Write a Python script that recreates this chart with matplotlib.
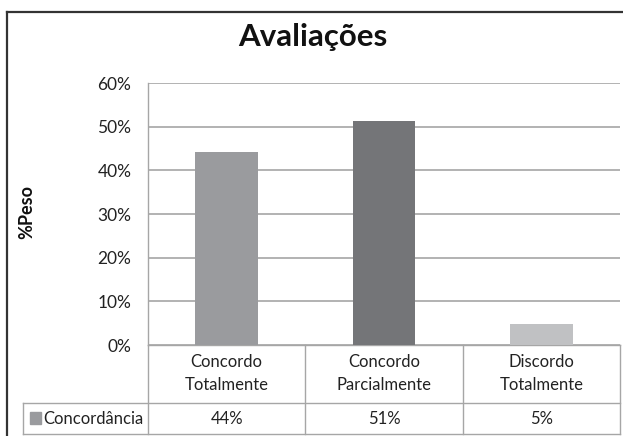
import matplotlib
matplotlib.use("Agg")
import matplotlib.pyplot as plt
from matplotlib.patches import Rectangle
from matplotlib.lines import Line2D

categories = ["Concordo\nTotalmente", "Concordo\nParcialmente", "Discordo\nTotalmente"]
values = [0.441, 0.512, 0.047]
bar_colors = ["#9a9b9e", "#747578", "#c0c1c3"]
series_name = "Concordância"
title = "Avaliações"
ylabel = "%Peso"
yticks = [0, 0.1, 0.2, 0.3, 0.4, 0.5, 0.6]

W, H = 623, 436
plt.rcParams["font.family"] = ["Lato", "DejaVu Sans"]

fig = plt.figure(figsize=(W / 100, H / 100), dpi=100)

# plot area in pixel coords
px_l, px_r, px_t, px_b = 148, 620, 83, 345
ax = fig.add_axes([px_l / W, 1 - px_b / H, (px_r - px_l) / W, (px_b - px_t) / H])

x = list(range(len(categories)))
ax.bar(x, values, width=0.4, color=bar_colors, zorder=3)
ax.set_xlim(-0.5, len(categories) - 0.5)
ax.set_ylim(0, 0.6)
ax.set_yticks(yticks)
ax.set_yticklabels([f"{int(round(t * 100))}%" for t in yticks], fontsize=12.5, color="#222222")
ax.tick_params(axis="y", length=0, pad=12)
ax.set_xticks([])
ax.grid(axis="y", color="#a6a6a6", linewidth=1.2, zorder=0)
for s in ["top", "right"]:
    ax.spines[s].set_visible(False)
ax.spines["left"].set_color("#a6a6a6")
ax.spines["bottom"].set_color("#a6a6a6")
ax.spines["left"].set_linewidth(1.0)
ax.spines["bottom"].set_linewidth(1.0)

# title and y label
fig.text(313 / W, 1 - 37 / H, title, ha="center", va="center",
         fontsize=22.5, fontweight="bold", color="#111111")
fig.text(27 / W, 1 - 212 / H, ylabel, ha="center", va="center", rotation=90,
         fontsize=13, fontweight="bold", color="#111111")

# data table under the axis
ah = px_b - px_t
aw = px_r - px_l
row1 = -(403 - px_b) / ah
row2 = -(434 - px_b) / ah
cat_y = -(373.5 - px_b) / ah
val_y = -(419 - px_b) / ah
left_col = (23 - px_l) / aw
tc = "#a6a6a6"
tr = ax.transAxes
lines = [
    ([left_col, 1], [row1, row1]),
    ([left_col, 1], [row2, row2]),
    ([left_col, left_col], [row1, row2]),
    ([0, 0], [0, row2]),
    ([1, 1], [0, row2]),
]
n = len(categories)
for i in range(1, n):
    lines.append(([i / n, i / n], [0, row2]))
for xs, ys in lines:
    ax.add_line(Line2D(xs, ys, transform=tr, color=tc, linewidth=1.0, clip_on=False))

for i, (cat, v) in enumerate(zip(categories, values)):
    cx = (i + 0.5) / n
    ax.text(cx, cat_y, cat, transform=tr, ha="center", va="center",
            fontsize=12, color="#222222", linespacing=1.5)
    ax.text(cx, val_y, f"{v * 100:.0f}%", transform=tr,
            ha="center", va="center", fontsize=12, color="#222222")

# legend key in table
fig.patches.append(Rectangle((30 / W, 1 - 424 / H), 11 / W, 12 / H,
                             transform=fig.transFigure, color=bar_colors[0]))
fig.text(43 / W, 1 - 419 / H, series_name, ha="left", va="center",
         fontsize=12, color="#222222")

# outer chart frame
fig.add_artist(Line2D([6.5 / W, 1], [1 - 12 / H, 1 - 12 / H], transform=fig.transFigure,
                      color="#333333", linewidth=1.6))
fig.add_artist(Line2D([6.5 / W, 6.5 / W], [1 - 12 / H, 0], transform=fig.transFigure,
                      color="#333333", linewidth=1.6))

fig.savefig("out.png", dpi=100)
